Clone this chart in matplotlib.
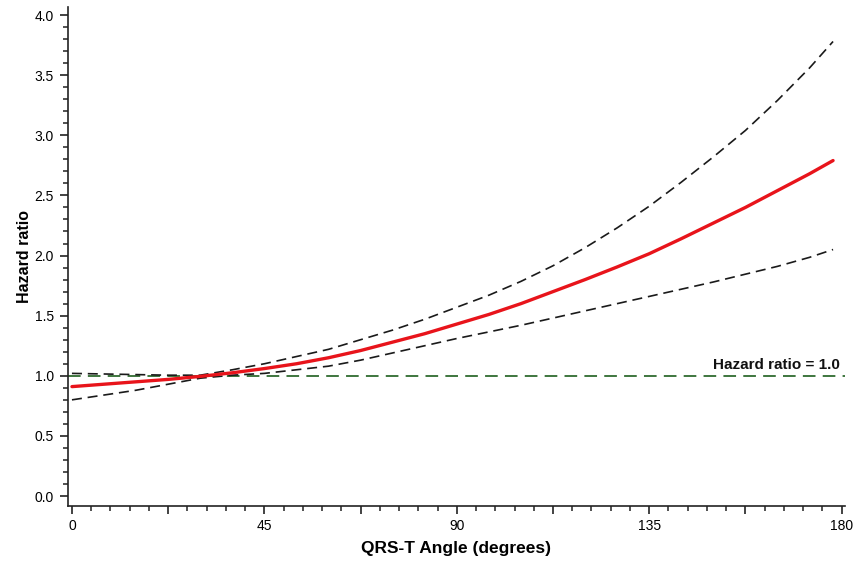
import matplotlib
matplotlib.use("Agg")
import matplotlib.pyplot as plt
from matplotlib.ticker import MultipleLocator, FixedLocator

# Data
angle = [0, 7.5, 15, 22.5, 30, 37.5, 45, 52.5, 60, 67.5, 75, 82.5, 90, 97.5,
         105, 112.5, 120, 127.5, 135, 142.5, 150, 157.5, 165, 172.5, 178]
hr = [0.91, 0.93, 0.95, 0.97, 0.995, 1.025, 1.06, 1.10, 1.15, 1.21, 1.28, 1.35,
      1.43, 1.51, 1.60, 1.70, 1.80, 1.905, 2.015, 2.14, 2.27, 2.40, 2.54, 2.68, 2.79]
hr_upper = [1.02, 1.015, 1.01, 1.005, 1.005, 1.05, 1.10, 1.16, 1.22, 1.30, 1.38, 1.47,
            1.57, 1.67, 1.785, 1.915, 2.065, 2.23, 2.41, 2.61, 2.82, 3.04, 3.29, 3.56, 3.78]
hr_lower = [0.80, 0.84, 0.88, 0.93, 0.98, 1.005, 1.02, 1.05, 1.08, 1.13, 1.19, 1.25,
            1.31, 1.365, 1.42, 1.48, 1.54, 1.60, 1.66, 1.72, 1.78, 1.845, 1.91, 1.985, 2.05]
xtick_pos = [0, 22.5, 45, 67.5, 90, 112.5, 135, 157.5, 180]
xtick_labels = ['0', '', '45', '', '90', '', '135', '', '180']
yticks = [0.0, 0.5, 1.0, 1.5, 2.0, 2.5, 3.0, 3.5, 4.0]
ref_value = 1.0

plt.rcParams['font.family'] = ['Liberation Sans', 'DejaVu Sans']

fig = plt.figure(figsize=(8.54, 5.63), dpi=100)
ax = fig.add_axes([0.0796, 0.1012, 0.9094, 0.8864])

ax.axhline(ref_value, color='#2f6b2f', lw=1.3, dashes=(7, 4))
ax.plot(angle, hr_upper, color='#1a1a1a', lw=1.2, dashes=(6, 3.5))
ax.plot(angle, hr_lower, color='#1a1a1a', lw=1.2, dashes=(6, 3.5))
ax.plot(angle, hr, color='#e8141b', lw=2.4, solid_capstyle='round')

ax.text(179.5, 1.035, 'Hazard ratio = 1.0', ha='right', va='bottom',
        fontsize=11, fontweight='bold', color='#111111')

ax.set_xlim(-0.93, 180.7)
ax.set_ylim(-0.083, 4.067)

ax.xaxis.set_major_locator(FixedLocator(xtick_pos))
ax.set_xticklabels(xtick_labels)
ax.xaxis.set_minor_locator(MultipleLocator(4.5))
ax.set_yticks(yticks)
ax.set_yticklabels([f'{v:.1f}' for v in yticks])
ax.yaxis.set_minor_locator(MultipleLocator(0.1))

ax.tick_params(axis='both', which='major', length=6, width=1.2, labelsize=10, color='#222222')
ax.tick_params(axis='both', which='minor', length=3.5, width=1.1, color='#222222')
ax.tick_params(axis='x', pad=3)
ax.tick_params(axis='y', pad=4)

for s in ['top', 'right']:
    ax.spines[s].set_visible(False)
for s in ['left', 'bottom']:
    ax.spines[s].set_linewidth(1.2)
    ax.spines[s].set_color('#222222')

ax.set_xlabel('QRS-T Angle (degrees)', fontsize=12.5, fontweight='bold', labelpad=6)
ax.set_ylabel('Hazard ratio', fontsize=11.5, fontweight='bold', labelpad=2)

fig.savefig('out.png', dpi=100)
